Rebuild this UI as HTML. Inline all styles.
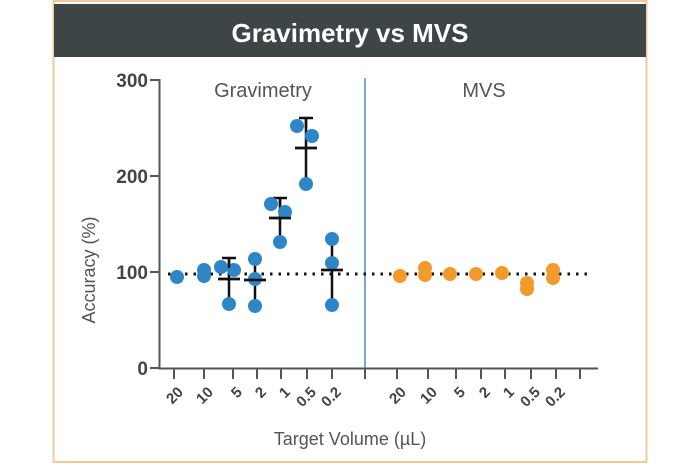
<!DOCTYPE html>
<html><head><meta charset="utf-8"><style>
html,body{margin:0;padding:0;background:#fff;width:700px;height:467px;overflow:hidden}
svg{display:block}
text{font-family:"Liberation Sans",sans-serif}
</style></head><body>
<svg width="700" height="467" viewBox="0 0 700 467" xmlns="http://www.w3.org/2000/svg">
<rect x="53.5" y="1" width="593" height="461" fill="#fff" stroke="#f3c89a" stroke-width="2"/>
<rect x="54" y="4" width="592" height="53" fill="#3e4547"/>
<text x="350" y="42" text-anchor="middle" font-size="26" font-weight="bold" fill="#fff">Gravimetry vs MVS</text>
<text x="263" y="97" text-anchor="middle" font-size="20" fill="#555">Gravimetry</text>
<text x="484" y="97" text-anchor="middle" font-size="20" fill="#555">MVS</text>
<line x1="365" y1="78" x2="365" y2="368" stroke="#7aa9d8" stroke-width="2"/>
<g stroke="#555" stroke-width="2" fill="none">
<path d="M150 80H159.5V368.5H598"/>
<path d="M150 176H159M150 272H159M150 368H159"/>
<path d="M174 368v11M204 368v11M233 368v11M257 368v11M281 368v11M307 368v11M332 368v11M365 368v11M397 368v11M428 368v11M456 368v11M481 368v11M505 368v11M531 368v11M556 368v11M580 368v11"/>
</g>
<g font-size="19" font-weight="bold" fill="#444" text-anchor="end">
<text x="148" y="87">300</text><text x="148" y="183">200</text><text x="148" y="279">100</text><text x="148" y="375">0</text>
</g>
<text transform="translate(95,270) rotate(-90)" text-anchor="middle" font-size="18" fill="#555">Accuracy (%)</text>
<text x="350" y="445" text-anchor="middle" font-size="18" fill="#555">Target Volume (µL)</text>
<g font-size="15" font-weight="bold" fill="#444" text-anchor="end">
<g transform="translate(184,393) rotate(-45)"><text>20</text></g>
<g transform="translate(214,393) rotate(-45)"><text>10</text></g>
<g transform="translate(243,393) rotate(-45)"><text>5</text></g>
<g transform="translate(267,393) rotate(-45)"><text>2</text></g>
<g transform="translate(291,393) rotate(-45)"><text>1</text></g>
<g transform="translate(317,393) rotate(-45)"><text>0.5</text></g>
<g transform="translate(342,393) rotate(-45)"><text>0.2</text></g>
<g transform="translate(407,393) rotate(-45)"><text>20</text></g>
<g transform="translate(438,393) rotate(-45)"><text>10</text></g>
<g transform="translate(466,393) rotate(-45)"><text>5</text></g>
<g transform="translate(491,393) rotate(-45)"><text>2</text></g>
<g transform="translate(515,393) rotate(-45)"><text>1</text></g>
<g transform="translate(541,393) rotate(-45)"><text>0.5</text></g>
<g transform="translate(566,393) rotate(-45)"><text>0.2</text></g>
</g>
<line x1="168" y1="274" x2="592" y2="274" stroke="#111" stroke-width="3" stroke-dasharray="2.5 6"/>
<g stroke="#111" stroke-width="2.5" fill="none">
<path d="M229 304V258M222 258h14M218 279h22"/>
<path d="M255 306V262M244 280h22"/>
<path d="M280 242V198M273 198h14M269 218h22"/>
<path d="M306 184V118M299 118h14M295 148h22"/>
<path d="M332 240V305M321 270h22"/>
</g>
<g fill="#2f86c6">
<circle cx="177" cy="277" r="7"/>
<circle cx="204" cy="270" r="7"/><circle cx="204" cy="276" r="7"/>
<circle cx="221" cy="267" r="7"/><circle cx="234" cy="270" r="7"/><circle cx="229" cy="304" r="7"/>
<circle cx="255" cy="259" r="7"/><circle cx="255" cy="279" r="7"/><circle cx="255" cy="306" r="7"/>
<circle cx="271" cy="204" r="7"/><circle cx="285" cy="212" r="7"/><circle cx="280" cy="242" r="7"/>
<circle cx="297" cy="126" r="7"/><circle cx="312" cy="136" r="7"/><circle cx="306" cy="184" r="7"/>
<circle cx="332" cy="239" r="7"/><circle cx="332" cy="263" r="7"/><circle cx="332" cy="305" r="7"/>
</g>
<g stroke="#111" stroke-width="2.5" fill="none">
<path d="M218 279h22M244 280h22M269 218h22M295 148h22M321 270h22M229 258v10M306 118v10M280 198v8"/>
</g>
<g fill="#f39a2c">
<circle cx="400" cy="276" r="7"/>
<circle cx="425" cy="268" r="7"/><circle cx="425" cy="275" r="7"/>
<circle cx="450" cy="274" r="7"/><circle cx="476" cy="274" r="7"/><circle cx="502" cy="273" r="7"/>
<circle cx="527" cy="283" r="7"/><circle cx="527" cy="289" r="7"/>
<circle cx="553" cy="270" r="7"/><circle cx="553" cy="278" r="7"/>
</g>
</svg>
</body></html>
